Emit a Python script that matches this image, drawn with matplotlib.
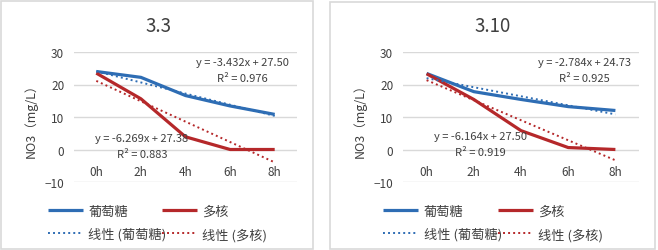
import numpy as np
import matplotlib
matplotlib.use("Agg")
import matplotlib.pyplot as plt
from matplotlib.patches import Rectangle

plt.rcParams["font.family"] = ["Noto Sans CJK SC", "DejaVu Sans"]

hours = ["0h", "2h", "4h", "6h", "8h"]
titles = ["3.3", "3.10"]

glucose_33 = [24.0, 22.2, 16.6, 13.4, 10.8]
multi_33 = [23.5, 15.6, 3.9, 0.0, 0.0]
glucose_310 = [23.4, 17.8, 15.4, 13.2, 12.0]
multi_310 = [23.3, 15.4, 5.8, 0.6, 0.0]

# trendline coefficients as printed on the chart (x = 1..5)
glu_fit = [(-3.432, 27.50, 0.976), (-2.784, 24.73, 0.925)]
multi_fit = [(-6.269, 27.38, 0.883), (-6.164, 27.50, 0.919)]

BLUE = "#2E6DB4"
RED = "#B5282A"
GRID = "#D9D9D9"
TXT = "#404040"

W, H = 658, 251
fig = plt.figure(figsize=(W / 100, H / 100), dpi=100)

panels = [
    dict(box=(1, 2, 313, 250), ax=(74, 53, 297, 183), title_x=158,
         eq1=(242, 63), eq2=(142, 139), leg=(40, 154)),
    dict(box=(330, 3, 655, 250), ax=(403, 53, 639, 183), title_x=493,
         eq1=(584, 63), eq2=(480, 137), leg=(46, 161)),
]
glucose = [glucose_33, glucose_310]
multi = [multi_33, multi_310]


def fx(px):
    return px / W


def fy(py):
    return 1 - py / H


for i, p in enumerate(panels):
    x0, y0, x1, y1 = p["box"]
    fig.patches.append(Rectangle((fx(x0), fy(y1)), fx(x1 - x0), (y1 - y0) / H,
                                 transform=fig.transFigure, fill=False,
                                 edgecolor="#D9D9D9", linewidth=1.2))
    a0, b0, a1, b1 = p["ax"]
    ax = fig.add_axes([fx(a0), fy(b1), fx(a1 - a0), (b1 - b0) / H])
    xs = np.arange(len(hours))
    h1, = ax.plot(xs, glucose[i], color=BLUE, lw=2.3, solid_capstyle="butt",
                  zorder=3, label="葡萄糖")
    h2, = ax.plot(xs, multi[i], color=RED, lw=2.3, solid_capstyle="butt",
                  zorder=3, label="多核")
    xfit = xs + 1
    m, c, r2 = glu_fit[i]
    h3, = ax.plot(xs, m * xfit + c, color=BLUE, lw=1.4, ls=(0, (1, 1.6)),
                  zorder=4, label="线性 (葡萄糖)")
    m2, c2, r22 = multi_fit[i]
    h4, = ax.plot(xs, m2 * xfit + c2, color=RED, lw=1.4, ls=(0, (1, 1.6)),
                  zorder=4, label="线性 (多核)")

    ax.set_xlim(-0.5, 4.5)
    ax.set_ylim(-10, 30)
    ax.set_yticks([-10, 0, 10, 20, 30])
    ax.grid(axis="y", color=GRID, lw=1)
    ax.set_axisbelow(True)
    for s in ax.spines.values():
        s.set_visible(False)
    ax.tick_params(axis="y", length=0, labelsize=8.5, labelcolor=TXT, pad=7)
    ax.set_xticks([])
    for k, h in enumerate(hours):
        ax.annotate(h, (k, 0), xytext=(0, -16), textcoords="offset points",
                    ha="center", va="center", fontsize=8.5, color=TXT)
    ax.set_ylabel("NO3（mg/L）", fontsize=9, color=TXT, labelpad=5)

    fig.text(fx(p["title_x"]), fy(26), titles[i], ha="center", va="center",
             fontsize=13.5, color=TXT)
    ex, ey = p["eq1"]
    fig.text(fx(ex), fy(ey), f"y = {m:.3f}x + {c:.2f}", ha="center", va="center",
             fontsize=8, color=TXT)
    fig.text(fx(ex), fy(ey + 16), f"R² = {r2:.3f}", ha="center", va="center",
             fontsize=8, color=TXT)
    ex, ey = p["eq2"]
    fig.text(fx(ex), fy(ey), f"y = {m2:.3f}x + {c2:.2f}", ha="center", va="center",
             fontsize=8, color=TXT)
    fig.text(fx(ex), fy(ey + 16), f"R² = {r22:.3f}", ha="center", va="center",
             fontsize=8, color=TXT)

    # two legend columns placed separately, like Excel's layout
    for col, (ha_, hb_) in zip(p["leg"], [(h1, h3), (h2, h4)]):
        fig.legend([ha_, hb_], [ha_.get_label(), hb_.get_label()], frameon=False,
                   fontsize=9.5, loc="upper left",
                   bbox_to_anchor=(fx(x0 + col), fy(199)),
                   handlelength=2.7, handletextpad=0.4,
                   labelspacing=0.75, labelcolor=TXT, borderpad=0)

fig.savefig("out.png", dpi=100)
